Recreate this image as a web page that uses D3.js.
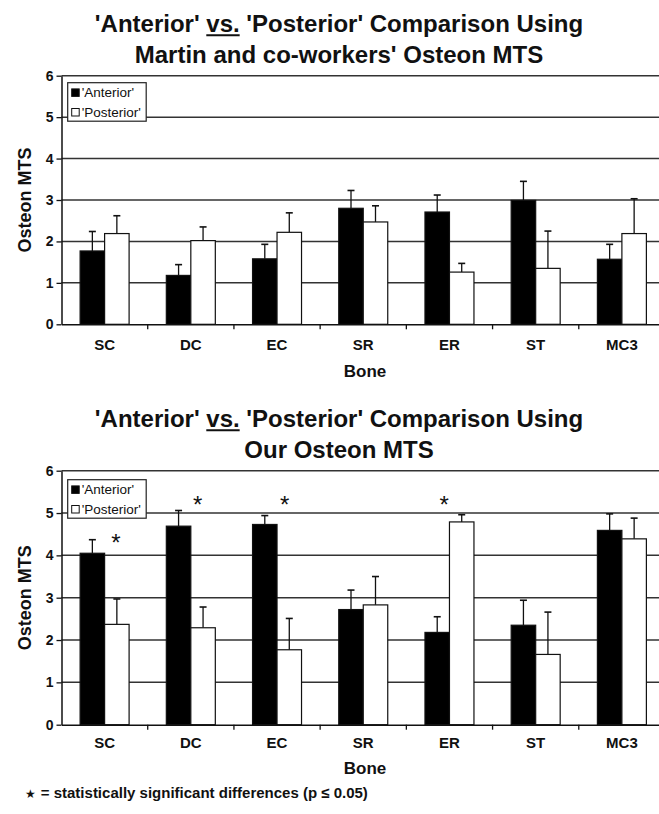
<!DOCTYPE html>
<html>
<head>
<meta charset="utf-8">
<script src="https://cdn.jsdelivr.net/npm/d3@7"></script>
<style>
  html, body { margin: 0; padding: 0; background: #fff; }
  svg { display: block; font-family: "Liberation Sans", Arial, Helvetica, sans-serif; }
</style>
</head>
<body>
<svg id="chart" width="659" height="814"></svg>
<script>
// Bones sampled
const bones = ["SC", "DC", "EC", "SR", "ER", "ST", "MC3"];
const seriesNames = ["'Anterior'", "'Posterior'"];
const yTicks = [0, 1, 2, 3, 4, 5, 6];

// Martin and co-workers' osteon MTS: means and mean + SD
const martinAnterior   = [1.77, 1.18, 1.58, 2.80, 2.71, 2.99, 1.57];
const martinAnteriorHi = [2.24, 1.44, 1.93, 3.23, 3.12, 3.45, 1.93];
const martinPosterior   = [2.19, 2.02, 2.22, 2.47, 1.26, 1.35, 2.19];
const martinPosteriorHi = [2.62, 2.35, 2.69, 2.86, 1.47, 2.25, 3.03];

// Our osteon MTS: means and mean + SD
const ourAnterior   = [4.05, 4.69, 4.73, 2.72, 2.18, 2.35, 4.59];
const ourAnteriorHi = [4.37, 5.06, 4.94, 3.18, 2.55, 2.94, 4.98];
const ourPosterior   = [2.37, 2.29, 1.77, 2.83, 4.79, 1.66, 4.39];
const ourPosteriorHi = [2.97, 2.78, 2.51, 3.50, 4.96, 2.66, 4.88];

// Significant differences (p <= 0.05): bone, marker height, offset within the bone's band
const sigBones  = ["SC", "DC", "EC", "ER"];
const sigLevels = [4.43, 5.33, 5.33, 5.33];
const sigShift  = [0.13, 0.08, 0.09, -0.06];

const svg = d3.select("#chart");

function drawPanel(cfg) {
  const x = d3.scaleBand().domain(bones).range([61.5, 665]).paddingInner(0).paddingOuter(0);
  const xs = d3.scaleBand().domain(seriesNames).range([0, x.bandwidth()]).paddingInner(0).paddingOuter(0.76);
  const y = d3.scaleLinear().domain([0, 6]).range([cfg.y0, cfg.y6]);

  const g = svg.append("g");

  // horizontal gridlines
  g.append("g").selectAll("line").data(yTicks.filter(d => d > 0)).join("line")
    .attr("x1", x.range()[0]).attr("x2", x.range()[1])
    .attr("y1", d => y(d)).attr("y2", d => y(d))
    .attr("stroke", "#333").attr("stroke-width", 1.5);

  // title
  const title = g.append("g");
  const t1 = title.append("text")
    .attr("x", 339).attr("y", cfg.y6 - 44)
    .attr("text-anchor", "middle")
    .attr("font-size", 24).attr("font-weight", "bold").attr("fill", "#111");
  t1.append("tspan").text("'Anterior' ");
  t1.append("tspan").attr("class", "vs").text("vs.");
  t1.append("tspan").text(" 'Posterior' Comparison Using");
  title.append("text")
    .attr("x", 339).attr("y", cfg.y6 - 13)
    .attr("text-anchor", "middle")
    .attr("font-size", 24).attr("font-weight", "bold").attr("fill", "#111")
    .text(cfg.subtitle);
  // underline beneath "vs."
  const node = t1.node();
  const full = node.textContent;
  const i0 = full.indexOf("vs.");
  const sx = node.getStartPositionOfChar(i0).x;
  const ex = node.getEndPositionOfChar(i0 + 2).x;
  title.append("line")
    .attr("x1", sx).attr("x2", ex)
    .attr("y1", cfg.y6 - 44 + 3.5).attr("y2", cfg.y6 - 44 + 3.5)
    .attr("stroke", "#111").attr("stroke-width", 2);

  // bars
  const rows = bones.map((b, i) => ({
    bone: b,
    vals: [
      { s: seriesNames[0], v: cfg.ant[i], hi: cfg.antHi[i] },
      { s: seriesNames[1], v: cfg.post[i], hi: cfg.postHi[i] }
    ]
  }));
  const grp = g.append("g").selectAll("g").data(rows).join("g")
    .attr("transform", d => `translate(${x(d.bone)},0)`);

  // error bars (upper only)
  grp.selectAll("line.err").data(d => d.vals).join("line").attr("class", "err")
    .attr("x1", d => xs(d.s) + xs.bandwidth() / 2).attr("x2", d => xs(d.s) + xs.bandwidth() / 2)
    .attr("y1", d => y(d.v)).attr("y2", d => y(d.hi))
    .attr("stroke", "#111").attr("stroke-width", 1.3);
  grp.selectAll("line.cap").data(d => d.vals).join("line").attr("class", "cap")
    .attr("x1", d => xs(d.s) + xs.bandwidth() / 2 - 3.5).attr("x2", d => xs(d.s) + xs.bandwidth() / 2 + 3.5)
    .attr("y1", d => y(d.hi)).attr("y2", d => y(d.hi))
    .attr("stroke", "#111").attr("stroke-width", 1.6);

  grp.selectAll("rect").data(d => d.vals).join("rect")
    .attr("x", d => xs(d.s)).attr("width", xs.bandwidth())
    .attr("y", d => y(d.v)).attr("height", d => y(0) - y(d.v))
    .attr("fill", d => d.s === seriesNames[0] ? "#000" : "#fff")
    .attr("stroke", "#111").attr("stroke-width", 1.2);

  // y axis
  const ya = g.append("g").attr("transform", `translate(${x.range()[0]},0)`)
    .call(d3.axisLeft(y).tickValues(yTicks).tickFormat(d3.format("d")).tickSize(5).tickSizeOuter(0).tickPadding(3));
  ya.select(".domain").attr("stroke", "#111").attr("stroke-width", 1.5);
  ya.selectAll(".tick line").attr("stroke", "#111").attr("stroke-width", 1.3);
  ya.selectAll(".tick text").attr("font-size", 14).attr("font-weight", "bold").attr("fill", "#111")
    .attr("font-family", "Liberation Sans, Arial, sans-serif");

  // x axis with labels and ticks at bone boundaries
  const xa = g.append("g").attr("transform", `translate(0,${y(0)})`)
    .call(d3.axisBottom(x).tickSize(0).tickSizeOuter(0).tickPadding(cfg.labelPad));
  xa.select(".domain").attr("stroke", "#111").attr("stroke-width", 1.5);
  xa.selectAll(".tick text").attr("font-size", 15).attr("font-weight", "bold").attr("fill", "#111")
    .attr("font-family", "Liberation Sans, Arial, sans-serif");
  xa.append("g").selectAll("line").data(bones.slice(1)).join("line")
    .attr("x1", d => x(d)).attr("x2", d => x(d))
    .attr("y1", 0).attr("y2", 5)
    .attr("stroke", "#111").attr("stroke-width", 1.3);

  g.append("text")
    .attr("x", 365).attr("y", y(0) + cfg.bonePad)
    .attr("text-anchor", "middle")
    .attr("font-size", 17).attr("font-weight", "bold").attr("fill", "#111")
    .text("Bone");

  g.append("text")
    .attr("transform", `translate(31,${(y(0) + y(6)) / 2}) rotate(-90)`)
    .attr("text-anchor", "middle")
    .attr("font-size", 18).attr("font-weight", "bold").attr("fill", "#111")
    .text("Osteon MTS");

  // legend
  const lg = g.append("g").attr("transform", `translate(67.7,${y(6) + cfg.legendTop})`);
  lg.append("rect").attr("width", 78.5).attr("height", 38.5)
    .attr("fill", "#fff").attr("stroke", "#222").attr("stroke-width", 1.2);
  const li = lg.selectAll("g").data(seriesNames).join("g")
    .attr("transform", (d, i) => `translate(4,${10 + i * 19.6})`);
  li.append("rect").attr("x", 0).attr("y", -3.8).attr("width", 7.5).attr("height", 7.5)
    .attr("fill", (d, i) => i === 0 ? "#000" : "#fff")
    .attr("stroke", "#111").attr("stroke-width", 1);
  li.append("text").attr("x", 10).attr("y", 0).attr("dy", "0.35em")
    .attr("font-size", 13.5).attr("fill", "#111").text(d => d);

  // significance markers
  if (cfg.sig) {
    g.append("g").selectAll("text").data(sigBones).join("text")
      .attr("x", (d, i) => x(d) + x.bandwidth() * (0.5 + sigShift[i]))
      .attr("y", (d, i) => y(sigLevels[i]) + 13.5)
      .attr("text-anchor", "middle")
      .attr("font-size", 24).attr("fill", "#111")
      .text("*");
  }
}

drawPanel({
  subtitle: "Martin and co-workers' Osteon MTS",
  ant: martinAnterior, antHi: martinAnteriorHi,
  post: martinPosterior, postHi: martinPosteriorHi,
  y0: 324.3, y6: 75.7, legendTop: 7, labelPad: 15, bonePad: 53, sig: false
});

drawPanel({
  subtitle: "Our Osteon MTS",
  ant: ourAnterior, antHi: ourAnteriorHi,
  post: ourPosterior, postHi: ourPosteriorHi,
  y0: 724.7, y6: 470.7, legendTop: 9, labelPad: 13, bonePad: 49, sig: true
});

// footnote
const fn = svg.append("text").attr("x", 25).attr("y", 798)
  .attr("font-size", 15).attr("font-weight", "bold").attr("fill", "#111");
fn.append("tspan").attr("font-family", "DejaVu Sans, sans-serif").attr("font-size", 12).text("★");
fn.append("tspan").attr("dx", 5).text("= statistically significant differences (p ≤ 0.05)");
</script>
</body>
</html>
